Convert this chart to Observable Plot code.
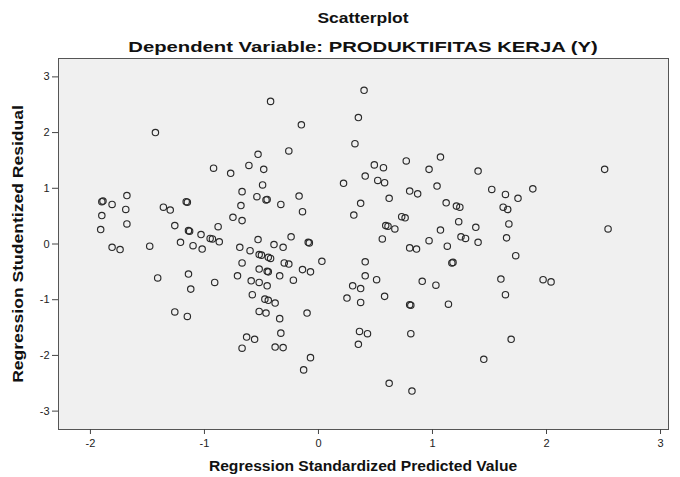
<!DOCTYPE html>
<html>
<head>
<meta charset="utf-8">
<script src="https://cdn.jsdelivr.net/npm/d3@7"></script>
<script src="https://cdn.jsdelivr.net/npm/@observablehq/plot@0.6"></script>
<style>
  body { margin: 0; background: #fff; }
  #chart { position: relative; width: 680px; height: 477px; font-family: "Liberation Sans", Arial, sans-serif; }
  .lbl { position: absolute; white-space: nowrap; font-weight: bold; line-height: 1; color: #111; }
</style>
</head>
<body>
<div id="chart"></div>
<script>
const titleText = "Scatterplot";
const subtitleText = "Dependent Variable: PRODUKTIFITAS KERJA (Y)";
const xTitle = "Regression Standardized Predicted Value";
const yTitle = "Regression Studentized Residual";
const xTicks = [-2, -1, 0, 1, 2, 3];
const yTicks = [-3, -2, -1, 0, 1, 2, 3];

const predicted = [
  -1.43, -0.92, -1.89, -1.90, -1.81, -1.68, -1.69, -1.90, -1.91, -1.68,
  -1.36, -1.30, -1.16, -1.15, -1.26, -1.14, -1.13, -1.03, -0.95, -0.93,
  -0.88, -0.87, -1.21, -1.10, -1.02, -1.48, -1.81, -1.74, -1.41, -1.14,
  -1.12, -0.91, -1.26, -1.15, -0.42, 0.40, -0.15, 0.35, -0.26, 0.32,
  -0.53, -0.61, -0.48, -0.77, -0.49, 0.41, 0.22, -0.67, -0.54, -0.46,
  -0.45, -0.68, -0.33, -0.17, -0.14, 0.37, 0.31, -0.75, -0.67, -0.53,
  -0.24, -0.09, -0.08, -0.39, -0.31, -0.69, -0.60, -0.52, -0.50, -0.44,
  -0.42, -0.67, -0.30, -0.26, -0.14, -0.07, 0.03, -0.52, -0.44, -0.45,
  -0.34, -0.71, -0.59, -0.52, -0.45, -0.22, -0.58, -0.47, -0.44, -0.38,
  -0.52, -0.46, -0.34, -0.10, -0.33, -0.63, -0.56, -0.67, -0.38, -0.31,
  -0.07, -0.13, 0.41, 0.41, 0.30, 0.37, 0.25, 0.37, 0.36, 0.43,
  0.35, 0.49, 0.57, 0.77, 1.07, 0.97, 1.40, 0.52, 0.58, 0.80,
  0.87, 1.04, 0.62, 1.52, 1.64, 1.75, 1.12, 1.21, 1.24, 1.62,
  1.66, 0.73, 0.76, 1.23, 1.67, 0.59, 0.61, 0.67, 1.07, 1.38,
  0.56, 0.97, 1.25, 1.29, 1.40, 1.65, 1.13, 0.80, 0.86, 1.73,
  1.18, 1.17, 0.51, 0.91, 1.03, 1.60, 0.58, 1.64, 0.80, 0.81,
  1.14, 0.81, 1.69, 1.45, 0.62, 0.82, 2.51, 1.88, 2.54, 1.97,
  2.04
];
const residual = [
  2.00, 1.36, 0.77, 0.76, 0.71, 0.87, 0.62, 0.51, 0.26, 0.36,
  0.66, 0.61, 0.76, 0.75, 0.33, 0.24, 0.23, 0.17, 0.10, 0.09,
  0.31, 0.04, 0.03, -0.03, -0.09, -0.04, -0.06, -0.10, -0.61, -0.54,
  -0.81, -0.69, -1.22, -1.30, 2.56, 2.76, 2.14, 2.27, 1.67, 1.80,
  1.61, 1.41, 1.34, 1.27, 1.06, 1.22, 1.09, 0.94, 0.85, 0.79,
  0.80, 0.69, 0.71, 0.86, 0.58, 0.73, 0.52, 0.48, 0.42, 0.08,
  0.13, 0.03, 0.02, -0.01, -0.06, -0.06, -0.12, -0.19, -0.20, -0.24,
  -0.26, -0.34, -0.34, -0.36, -0.46, -0.50, -0.31, -0.45, -0.50, -0.49,
  -0.57, -0.57, -0.66, -0.69, -0.75, -0.65, -0.91, -0.99, -1.01, -1.06,
  -1.21, -1.24, -1.34, -1.24, -1.60, -1.67, -1.71, -1.87, -1.85, -1.86,
  -2.04, -2.26, -0.32, -0.57, -0.75, -0.80, -0.97, -1.05, -1.57, -1.61,
  -1.80, 1.42, 1.37, 1.49, 1.56, 1.34, 1.31, 1.14, 1.10, 0.95,
  0.90, 1.04, 0.82, 0.98, 0.89, 0.82, 0.74, 0.68, 0.66, 0.66,
  0.62, 0.49, 0.47, 0.40, 0.36, 0.33, 0.32, 0.27, 0.25, 0.30,
  0.09, 0.06, 0.13, 0.10, 0.03, 0.11, -0.04, -0.07, -0.09, -0.21,
  -0.33, -0.34, -0.64, -0.67, -0.74, -0.63, -0.94, -0.91, -1.09, -1.10,
  -1.08, -1.61, -1.71, -2.07, -2.50, -2.64, 1.34, 0.99, 0.27, -0.64,
  -0.68
];

const data = predicted.map((x, i) => ({x, y: residual[i]}));
const fmt = d => String(d);

const plot = Plot.plot({
  width: 680,
  height: 477,
  marginLeft: 58,
  marginRight: 12,
  marginTop: 58,
  marginBottom: 48,
  style: {fontFamily: "'Liberation Sans', Arial, sans-serif", fontSize: "11px", color: "#222", background: "transparent"},
  x: {domain: [-2.28, 3.07], label: null},
  y: {domain: [-3.33, 3.33], label: null},
  marks: [
    Plot.frame({fill: "#f0f0f0", stroke: "#555", strokeWidth: 1}),
    Plot.dot(data, {x: "x", y: "y", r: 3.2, stroke: "#2a2a2a", strokeWidth: 1.15, fill: "none"}),
    Plot.axisX({ticks: xTicks, tickFormat: fmt, tickSize: 5, tickPadding: 5, stroke: "#444", label: null}),
    Plot.axisY({ticks: yTicks, tickFormat: fmt, tickSize: 6, tickPadding: 3, stroke: "#444", label: null})
  ]
});

const chart = document.getElementById("chart");
chart.appendChild(plot);

function addLabel(text, cx, cy, size, targetWidth, rotate) {
  const s = document.createElement("span");
  s.className = "lbl";
  s.textContent = text;
  s.style.fontSize = size + "px";
  s.style.left = cx + "px";
  s.style.top = cy + "px";
  chart.appendChild(s);
  const k = targetWidth / s.offsetWidth;
  s.style.transform = `translate(-50%, -50%)${rotate ? " rotate(-90deg)" : ""} scaleX(${k})`;
}
addLabel(titleText, 363, 18, 14, 91, false);
addLabel(subtitleText, 363, 46, 15, 470, false);
addLabel(xTitle, 363, 466, 14, 308, false);
addLabel(yTitle, 18, 244, 14, 278, true);
</script>
</body>
</html>
